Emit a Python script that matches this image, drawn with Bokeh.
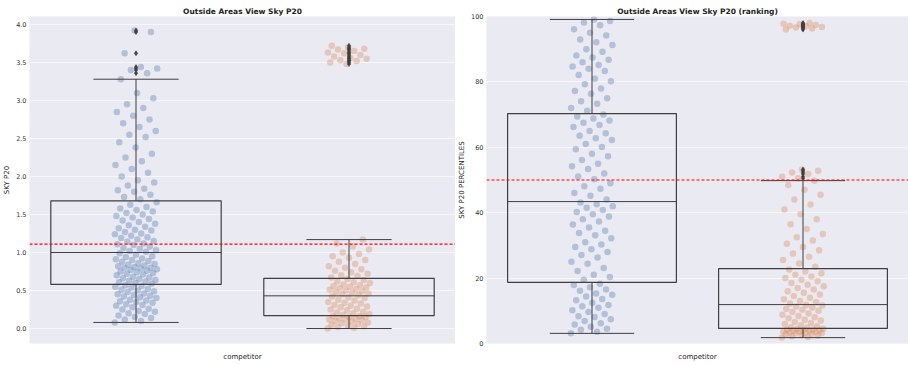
from bokeh.plotting import figure
from bokeh.layouts import row
from bokeh.models import Span, SingleIntervalTicker, FixedTicker, Range1d, PrintfTickFormatter
from bokeh.embed import file_html
from bokeh.resources import INLINE

# ---------------- data ----------------
titles = ["Outside Areas View Sky P20", "Outside Areas View Sky P20 (ranking)"]
y_labels = ["SKY P20", "SKY P20 PERCENTILES"]
x_label = "competitor"
colors = ["#4c72b0", "#dd8452"]

sky_blue = [0.08, 0.1, 0.12, 0.14, 0.15, 0.17, 0.19, 0.2, 0.22, 0.23, 0.25, 0.26, 0.28, 0.3, 0.31,
            0.32, 0.34, 0.35, 0.36, 0.37, 0.38, 0.4, 0.41, 0.42, 0.43, 0.44, 0.45, 0.46, 0.48, 0.49,
            0.5, 0.51, 0.52, 0.54, 0.55, 0.56, 0.57,
            0.59, 0.6, 0.61, 0.62, 0.63, 0.64, 0.65, 0.66, 0.67, 0.68, 0.7, 0.71, 0.72, 0.73, 0.74,
            0.75, 0.76, 0.77, 0.78, 0.79, 0.8, 0.8, 0.81, 0.82, 0.83, 0.84, 0.85, 0.86, 0.88, 0.89,
            0.9, 0.91, 0.92, 0.94, 0.95, 0.97, 0.99,
            1.01, 1.02, 1.03, 1.05, 1.06, 1.08, 1.1, 1.11, 1.12, 1.14, 1.15, 1.17, 1.19, 1.2, 1.22,
            1.24, 1.25, 1.27, 1.29, 1.3, 1.32, 1.34, 1.36, 1.38, 1.4, 1.42, 1.44, 1.46, 1.48, 1.5,
            1.52, 1.54, 1.56, 1.58, 1.6, 1.63, 1.66,
            1.7, 1.73, 1.76, 1.8, 1.82, 1.84, 1.88, 1.92, 1.95, 2.0, 2.05, 2.1, 2.15, 2.2, 2.25,
            2.3, 2.38, 2.45, 2.52, 2.55, 2.6, 2.65, 2.7, 2.75, 2.8, 2.85, 2.9, 2.95, 3.03, 3.1, 3.28,
            3.36, 3.4, 3.42, 3.44, 3.62, 3.9, 3.92]
sky_orange = [0.0, 0.01, 0.02, 0.03, 0.04, 0.05, 0.06, 0.07, 0.08, 0.09, 0.1, 0.11, 0.12, 0.12,
              0.13, 0.14, 0.15, 0.15, 0.16, 0.16,
              0.18, 0.19, 0.2, 0.21, 0.22, 0.24, 0.25, 0.26, 0.28, 0.29, 0.3, 0.31, 0.33, 0.34,
              0.35, 0.37, 0.38, 0.4, 0.41, 0.42,
              0.44, 0.45, 0.46, 0.47, 0.48, 0.49, 0.5, 0.51, 0.52, 0.53, 0.54, 0.55, 0.56, 0.57,
              0.58, 0.6, 0.61, 0.62, 0.64, 0.65,
              0.67, 0.69, 0.7, 0.72, 0.74, 0.76, 0.78, 0.8, 0.82, 0.85, 0.88, 0.9, 0.93, 0.95,
              0.98, 1.0, 1.04, 1.08, 1.12, 1.17,
              3.48, 3.5, 3.52, 3.53, 3.55, 3.56, 3.58, 3.6, 3.62, 3.63, 3.65, 3.67, 3.68, 3.7, 3.72]

rank_blue = [3.1, 3.6, 4.2, 4.5, 5.1, 5.8, 6.2, 6.9, 7.4, 8.1, 8.3, 9.0, 9.6, 10.2, 10.9, 11.4,
             11.8, 12.5, 13.2, 13.6, 14.4, 14.9, 15.3, 16.1, 16.5, 17.2, 17.9, 18.3,
             19.5, 20.3, 21.0, 22.2, 23.1, 24.4, 25.0, 26.3, 27.1, 28.0, 28.8, 29.5, 30.3, 31.0,
             32.2, 33.1, 33.8, 34.5, 35.5, 36.4, 37.3, 38.0, 38.8, 39.5, 40.2, 40.8, 41.5, 42.0,
             42.6, 43.1,
             44.0, 45.2, 46.0, 47.3, 48.1, 49.0, 50.2, 51.1, 52.0, 53.4, 54.2, 55.0, 56.1, 57.3,
             58.0, 59.4, 60.1, 61.0, 62.2, 62.8, 63.5, 64.3, 65.0, 66.2, 66.8, 67.5, 68.2, 68.8,
             69.4, 70.0,
             71.2, 72.0, 73.3, 74.1, 75.0, 76.4, 77.2, 78.0, 79.3, 80.2, 81.0, 82.1, 83.3, 84.0,
             84.7, 85.2, 86.0, 86.8, 87.5, 88.1, 89.2, 90.0, 91.3, 92.1, 93.0, 94.2, 95.0, 96.1,
             97.3, 98.2, 98.6, 99.1]
rank_orange = [1.8, 2.0, 2.2, 2.4, 2.6, 2.8, 3.0, 3.1, 3.2, 3.3, 3.4, 3.5, 3.6, 3.7, 3.8, 3.9,
               4.0, 4.1, 4.2, 4.3, 4.4, 4.5,
               4.8, 5.0, 5.3, 5.6, 6.0, 6.3, 6.6, 7.0, 7.3, 7.7, 8.0, 8.4, 8.8, 9.2, 9.6, 10.0,
               10.3, 10.6, 11.0, 11.3, 11.6, 11.8,
               12.2, 12.6, 13.0, 13.5, 14.0, 14.5, 15.0, 15.5, 16.0, 16.5, 17.0, 17.5, 18.0,
               18.5, 19.0, 19.5, 20.0, 20.5, 21.0, 21.5, 22.0, 22.6,
               23.5, 24.5, 25.5, 26.5, 27.5, 28.5, 29.5, 30.5, 31.5, 32.5, 33.5, 35.0, 36.5,
               38.0, 39.5, 41.0, 42.5, 44.0, 45.5, 47.0, 48.5, 49.8,
               50.5, 51.0, 51.8, 52.3, 52.8, 53.2,
               96.0, 96.3, 96.6, 96.8, 97.0, 97.2, 97.4, 97.6, 97.8, 98.0]

# box statistics (group 0 = blue, group 1 = orange)
sky_q1 = [0.58, 0.17]
sky_med = [1.0, 0.43]
sky_q3 = [1.68, 0.66]
sky_lo = [0.08, 0.0]
sky_hi = [3.28, 1.17]
sky_ref = 1.11

rank_q1 = [18.7, 4.6]
rank_med = [43.4, 11.9]
rank_q3 = [70.3, 22.9]
rank_lo = [3.1, 1.8]
rank_hi = [99.1, 49.8]
rank_ref = 50

BG = "#eaeaf2"
EDGE = "#3f3f3f"
FONT = "DejaVu Sans"


def jitter(i):
    return ((i * 0.6180339887) % 1.0) * 0.2 - 0.1


def panel(title, ylabel, series, q1, med, q3, lo, hi, ref, yr, interval, fmt,
          width, bl, br):
    p = figure(width=width, height=366, output_backend="svg", toolbar_location=None,
               x_range=Range1d(-0.5, 1.5), y_range=Range1d(*yr),
               min_border_left=bl, min_border_right=br, min_border_top=16,
               min_border_bottom=23)
    p.background_fill_color = BG
    p.border_fill_color = "white"
    p.outline_line_color = None
    p.title.text = title
    p.title.align = "center"
    p.title.text_font = FONT
    p.title.text_font_size = "7.5px"
    p.title.text_font_style = "bold"
    p.title.text_color = "#222222"
    p.title.standoff = 2

    p.xaxis.ticker = FixedTicker(ticks=[0, 1])
    p.xaxis.major_label_overrides = {0: "", 1: ""}
    p.xaxis.major_label_text_font_size = "5px"
    p.xaxis.major_label_standoff = 2
    p.xaxis.axis_label = x_label
    p.yaxis.axis_label = ylabel
    p.yaxis.ticker = SingleIntervalTicker(interval=interval)
    if fmt:
        p.yaxis.formatter = PrintfTickFormatter(format=fmt)
    for ax in (p.xaxis[0], p.yaxis[0]):
        ax.axis_line_color = None
        ax.major_tick_line_color = None
        ax.major_tick_out = 0
        ax.major_tick_in = 0
        ax.minor_tick_line_color = None
        ax.minor_tick_out = 0
        ax.minor_tick_in = 0
        ax.major_label_text_font = FONT
        ax.major_label_text_color = "#333333"
        ax.axis_label_text_font = FONT
        ax.axis_label_text_font_size = "7px"
        ax.axis_label_text_font_style = "normal"
        ax.axis_label_text_color = "#222222"
        ax.axis_label_standoff = 2
    p.xaxis.axis_label_standoff = 9
    p.yaxis.major_label_text_font_size = "6.5px"
    p.yaxis.major_label_standoff = 3
    p.xgrid.grid_line_color = None
    p.ygrid.grid_line_color = "white"
    p.ygrid.grid_line_alpha = 0.6
    p.ygrid.grid_line_width = 1

    # strip points
    for g, vals in enumerate(series):
        xs = [g + jitter(i) for i in range(len(vals))]
        p.scatter(xs, vals, size=6.5, fill_color=colors[g], fill_alpha=0.35,
                  line_color=None)

    # boxes
    for g in range(2):
        p.quad(left=[g - 0.4], right=[g + 0.4], bottom=[q1[g]], top=[q3[g]],
               fill_color=None, line_color=EDGE, line_width=1.2)
        p.segment([g - 0.4], [med[g]], [g + 0.4], [med[g]], line_color=EDGE, line_width=1.0)
        p.segment([g, g], [q3[g], q1[g]], [g, g], [hi[g], lo[g]], line_color=EDGE,
                  line_width=1.0)
        p.segment([g - 0.2, g - 0.2], [hi[g], lo[g]], [g + 0.2, g + 0.2], [hi[g], lo[g]],
                  line_color=EDGE, line_width=1.0)
        fl = [v for v in series[g] if v > hi[g] or v < lo[g]]
        p.scatter([g] * len(fl), fl, marker="diamond", size=5, fill_color=EDGE,
                  line_color=EDGE, line_width=0.5)

    p.add_layout(Span(location=ref, dimension="width", line_color="red",
                      line_dash="3 2", line_width=1.1))
    return p


p1 = panel(titles[0], y_labels[0], [sky_blue, sky_orange], sky_q1, sky_med, sky_q3,
           sky_lo, sky_hi, sky_ref, (-0.197, 4.105), 0.5, "%.1f", 455, 29, 0)
p2 = panel(titles[1], y_labels[1], [rank_blue, rank_orange], rank_q1, rank_med, rank_q3,
           rank_lo, rank_hi, rank_ref, (0, 100), 20, None, 453, 25, 0)

layout = row(p1, p2)
open("out.html", "w").write(file_html(layout, INLINE))
